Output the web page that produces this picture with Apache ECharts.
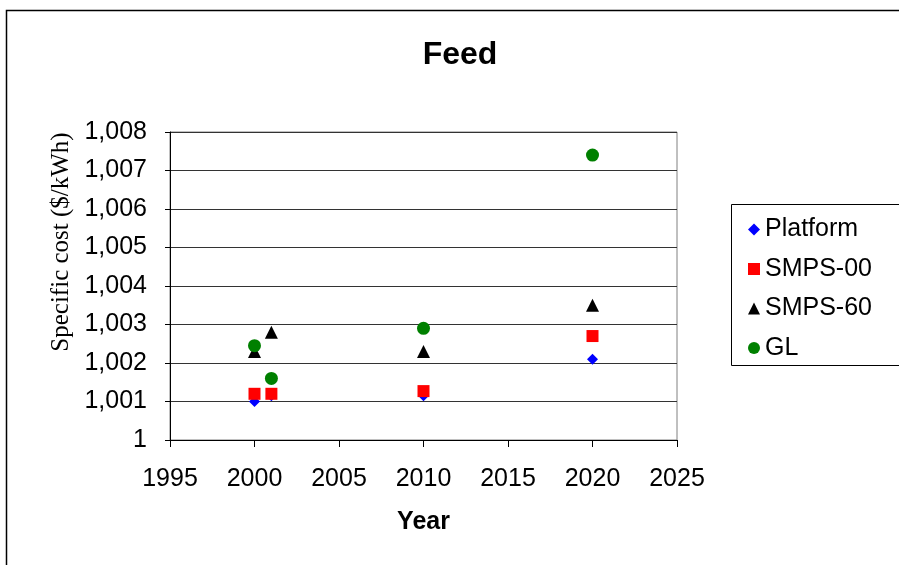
<!DOCTYPE html>
<html>
<head>
<meta charset="utf-8">
<script src="https://cdn.jsdelivr.net/npm/echarts@6/dist/echarts.min.js"></script>
<style>html,body{margin:0;padding:0;background:#fff;}#chart{width:899px;height:565px;}</style>
</head>
<body>
<div id="chart"></div>
<script>
var years = [2000, 2001, 2010, 2020];
var seriesNames = ['Platform', 'SMPS-00', 'SMPS-60', 'GL'];
var platform = [1.0010, 1.00115, 1.00115, 1.0021];
var smps00 = [1.0012, 1.0012, 1.00127, 1.0027];
var smps60 = [1.0023, 1.0028, 1.0023, 1.0035];
var gl = [1.00245, 1.0016, 1.0029, 1.0074];

var font = 'Liberation Sans, Arial, sans-serif';
function pts(vals) { return years.map(function (y, i) { return [y, vals[i]]; }); }

var chart = echarts.init(document.getElementById('chart'));
chart.setOption({
  animation: false,
  backgroundColor: '#fff',
  title: {
    text: 'Feed', left: 455, textAlign: 'center', top: 34,
    textStyle: { fontFamily: font, fontSize: 32, fontWeight: 'bold', color: '#000' }
  },
  graphic: [
    { type: 'rect', shape: { x: 6.5, y: 10.5, width: 1000, height: 1000 }, style: { fill: null, stroke: '#000', lineWidth: 1.5 }, z: -1 },
    { type: 'rect', shape: { x: 731.5, y: 204.5, width: 400, height: 161 }, style: { fill: null, stroke: '#000', lineWidth: 1 } }
  ],
  legend: {
    orient: 'vertical', left: 743, top: 212, itemGap: 14.5,
    itemWidth: 12, itemHeight: 12,
    textStyle: { fontFamily: font, fontSize: 25, color: '#000', lineHeight: 25 },
    data: seriesNames
  },
  grid: { left: 170, right: 222, top: 132, bottom: 125, show: true, borderColor: '#808080', borderWidth: 1 },
  xAxis: {
    type: 'value', min: 1995, max: 2025, interval: 5,
    name: 'Year', nameLocation: 'middle', nameGap: 70,
    nameTextStyle: { fontFamily: font, fontSize: 25, fontWeight: 'bold', color: '#000' },
    axisLine: { lineStyle: { color: '#000', width: 1 } },
    axisTick: { length: 7, lineStyle: { color: '#000' } },
    axisLabel: { fontFamily: font, fontSize: 25, color: '#000', margin: 27, formatter: function (v) { return String(v); } },
    splitLine: { show: false }
  },
  yAxis: {
    type: 'value', min: 1, max: 1.008, interval: 0.001,
    name: 'Specific cost ($/kWh)', nameLocation: 'middle', nameGap: 91,
    nameTextStyle: { fontFamily: 'Liberation Serif, Times New Roman, serif', fontSize: 25, color: '#000', padding: [0, 0, 0, 88] },
    axisLine: { show: true, lineStyle: { color: '#000', width: 1 } },
    axisTick: { show: true, length: 5, lineStyle: { color: '#000' } },
    axisLabel: {
      fontFamily: font, fontSize: 25, color: '#000', margin: 23,
      formatter: function (v) { return Math.abs(v - 1) < 1e-9 ? '1' : v.toFixed(3).replace('.', ','); }
    },
    splitLine: { lineStyle: { color: '#333', width: 1 } }
  },
  series: [
    { name: 'Platform', type: 'scatter', symbol: 'diamond', symbolSize: 11, itemStyle: { color: '#0000ff', opacity: 1 }, data: pts(platform) },
    { name: 'SMPS-00', type: 'scatter', symbol: 'rect', symbolSize: 12, itemStyle: { color: '#ff0000', opacity: 1 }, data: pts(smps00) },
    { name: 'SMPS-60', type: 'scatter', symbol: 'triangle', symbolSize: 13, itemStyle: { color: '#000000', opacity: 1 }, data: pts(smps60) },
    { name: 'GL', type: 'scatter', symbol: 'circle', symbolSize: 13, itemStyle: { color: '#008000', opacity: 1 }, data: pts(gl) }
  ]
});
</script>
</body>
</html>
